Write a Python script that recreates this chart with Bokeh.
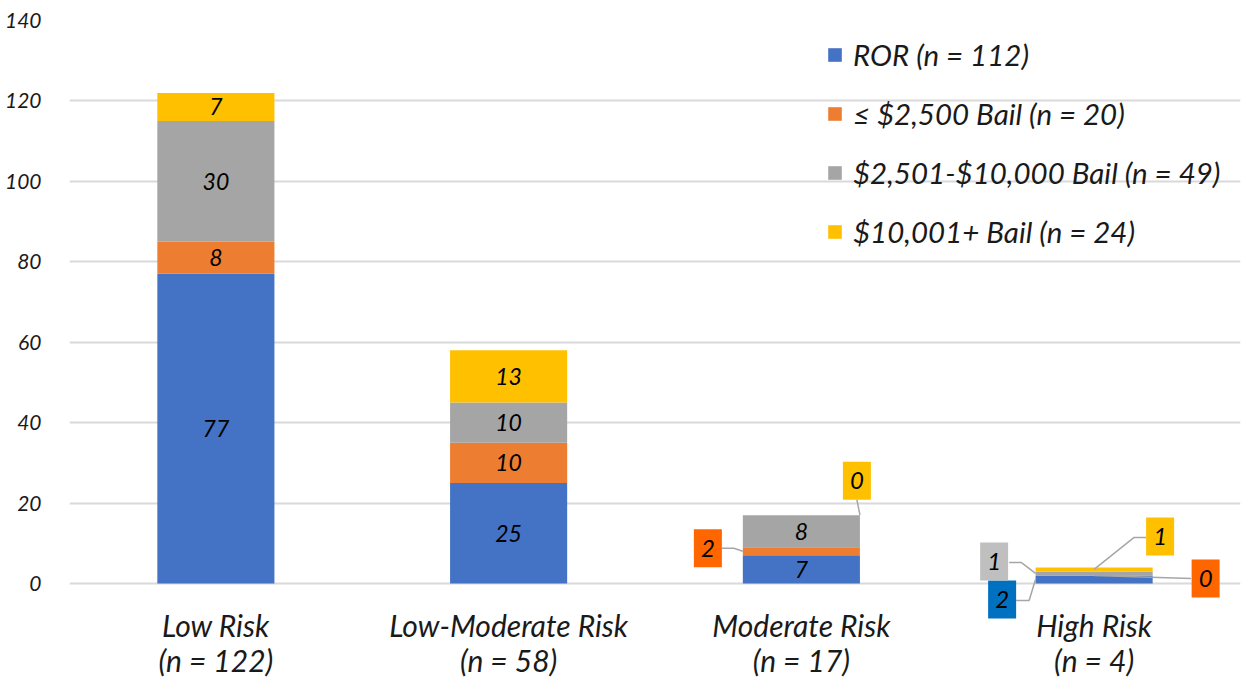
from bokeh.plotting import figure
from bokeh.models import Range1d, FixedTicker, Legend, LegendItem, ColumnDataSource
from bokeh.core.properties import value
from bokeh.embed import file_html
from bokeh.resources import INLINE

categories = ["Low Risk", "Low-Moderate Risk", "Moderate Risk", "High Risk"]
cat_n = [122, 58, 17, 4]
series_names = ["ROR (n = 112)", "\u2264 $2,500 Bail (n = 20)",
                "$2,501-$10,000 Bail (n = 49)", "$10,001+ Bail (n = 24)"]
ror = [77, 25, 7, 2]
bail_le_2500 = [8, 10, 2, 0]
bail_2501_10000 = [30, 10, 8, 1]
bail_10001 = [7, 13, 0, 1]
series_values = [ror, bail_le_2500, bail_2501_10000, bail_10001]
bar_colors = ["#4472C4", "#ED7D31", "#A5A5A5", "#FFC000"]
y_ticks = [0, 20, 40, 60, 80, 100, 120, 140]

FONT = "Lato"
W, H = 1244, 679
LEFT, RIGHT, TOP = 69, 4, 20
ZERO_PX = 583                     # canvas y of value 0
frame_w = W - LEFT - RIGHT
px_x = len(categories) / frame_w  # data units per pixel (x)
px_y = 140 / (ZERO_PX - TOP)      # data units per pixel (y)
y_start = -(H - ZERO_PX) * px_y
BAR_W = 0.4
n_cat = len(categories)

p = figure(width=W, height=H, output_backend="svg", toolbar_location=None,
           x_range=Range1d(0, n_cat), y_range=Range1d(y_start, 140),
           min_border_left=LEFT, min_border_right=RIGHT,
           min_border_top=TOP, min_border_bottom=0)
p.outline_line_color = None
p.background_fill_color = "white"
p.border_fill_color = "white"

xs = [i + 0.5 for i in range(n_cat)]

# stacked bars
bottoms = [0] * n_cat
renderers = []
for vals, col in zip(series_values, bar_colors):
    tops = [b + v for b, v in zip(bottoms, vals)]
    src = ColumnDataSource(dict(x=xs, bottom=bottoms, top=tops))
    r = p.vbar(x="x", bottom="bottom", top="top", width=BAR_W, source=src,
               fill_color=col, line_color=None)
    renderers.append(r)
    bottoms = tops

# axes
p.xaxis.visible = False
p.yaxis.ticker = FixedTicker(ticks=y_ticks)
ax = p.yaxis[0]
ax.axis_line_color = None
ax.major_tick_line_color = None
ax.minor_tick_line_color = None
ax.major_label_text_font = FONT
ax.major_label_text_font_style = "italic"
ax.major_label_text_color = "#1a1a1a"
ax.major_label_text_font_size = "21px"
ax.major_label_standoff = 22
p.xgrid.grid_line_color = None
p.ygrid.ticker = FixedTicker(ticks=y_ticks)
p.ygrid.grid_line_color = "#D9D9D9"
p.ygrid.grid_line_width = 2

# category labels (two lines) under the baseline
zeros = [0] * n_cat
p.text(x=xs, y=zeros, text=categories, y_offset=41, text_align="center",
       text_baseline="middle", text_font=value(FONT), text_font_style="italic",
       text_font_size="30px", text_color="#1a1a1a")
p.text(x=xs, y=zeros, text=[f"(n = {n})" for n in cat_n], y_offset=76,
       text_align="center", text_baseline="middle", text_font=value(FONT),
       text_font_style="italic", text_font_size="30px", text_color="#1a1a1a")

# labels: inside bars or in callout boxes
callouts = {}
callouts[(2, 1)] = (-93.5, 3, [(-79.5, 3), (-67.5, 3), (-58.6, 0)], "#FF6600")
callouts[(2, 3)] = (55.5, 34.5, [(55.5, 15.5), (58.6, 0)], "#FFC000")
callouts[(3, 0)] = (-92, -20, [(-78, -21), (-65, -21), (-58.6, 0)], "#0070C0")
callouts[(3, 2)] = (-100, 12, [(-85, 11), (-73, 11), (-58.6, 0)], "#BFBFBF")
callouts[(3, 3)] = (66, 33, [(52, 32), (40, 32), (0, 0)], "#FFC000")
callouts[(3, 1)] = (111.5, -3, [(97, -3), (0, 0)], "#FF6600")

inside_x, inside_y, inside_t = [], [], []
box_x, box_y, box_c, box_t = [], [], [], []
lines_x, lines_y = [], []
for ci in range(n_cat):
    base = 0
    for si, vals in enumerate(series_values):
        v = vals[ci]
        mid = base + v / 2
        if (ci, si) in callouts:
            dx, dy, pts, col = callouts[(ci, si)]
            ay = base + v if (ci, si) == (2, 3) else mid
            ax_ = xs[ci]
            box_x.append(ax_ + dx * px_x)
            box_y.append(ay + dy * px_y)
            box_c.append(col)
            box_t.append(str(v))
            lines_x.append([ax_ + px * px_x for px, _ in pts])
            lines_y.append([ay + py * px_y for _, py in pts])
        else:
            inside_x.append(xs[ci])
            inside_y.append(mid)
            inside_t.append(str(v))
        base += v

p.multi_line(xs=lines_x, ys=lines_y, line_color="#A6A6A6", line_width=1.5)
p.rect(x=box_x, y=box_y, width=28, height=38, width_units="screen", height_units="screen",
       fill_color=box_c, line_color=None)
p.text(x=box_x, y=box_y, text=box_t, text_align="center", text_baseline="middle",
       text_font=value(FONT), text_font_style="italic", text_font_size="24px",
       text_color="black")
p.text(x=inside_x, y=inside_y, text=inside_t, text_align="center", text_baseline="middle",
       text_font=value(FONT), text_font_style="italic", text_font_size="23px",
       text_color="black")

# legend
legend = Legend(items=[LegendItem(label=n, renderers=[r]) for n, r in zip(series_names, renderers)],
                location=(757, 430), orientation="vertical")
legend.label_text_font = FONT
legend.label_text_font_style = "italic"
legend.label_text_font_size = "29.5px"
legend.label_text_color = "#1a1a1a"
legend.glyph_width = 17
legend.glyph_height = 17
legend.label_height = 30
legend.label_standoff = 10
legend.spacing = 24
legend.padding = 0
legend.margin = 0
legend.border_line_color = None
legend.background_fill_alpha = 0
p.add_layout(legend)

open("out.html", "w").write(file_html(p, INLINE))
